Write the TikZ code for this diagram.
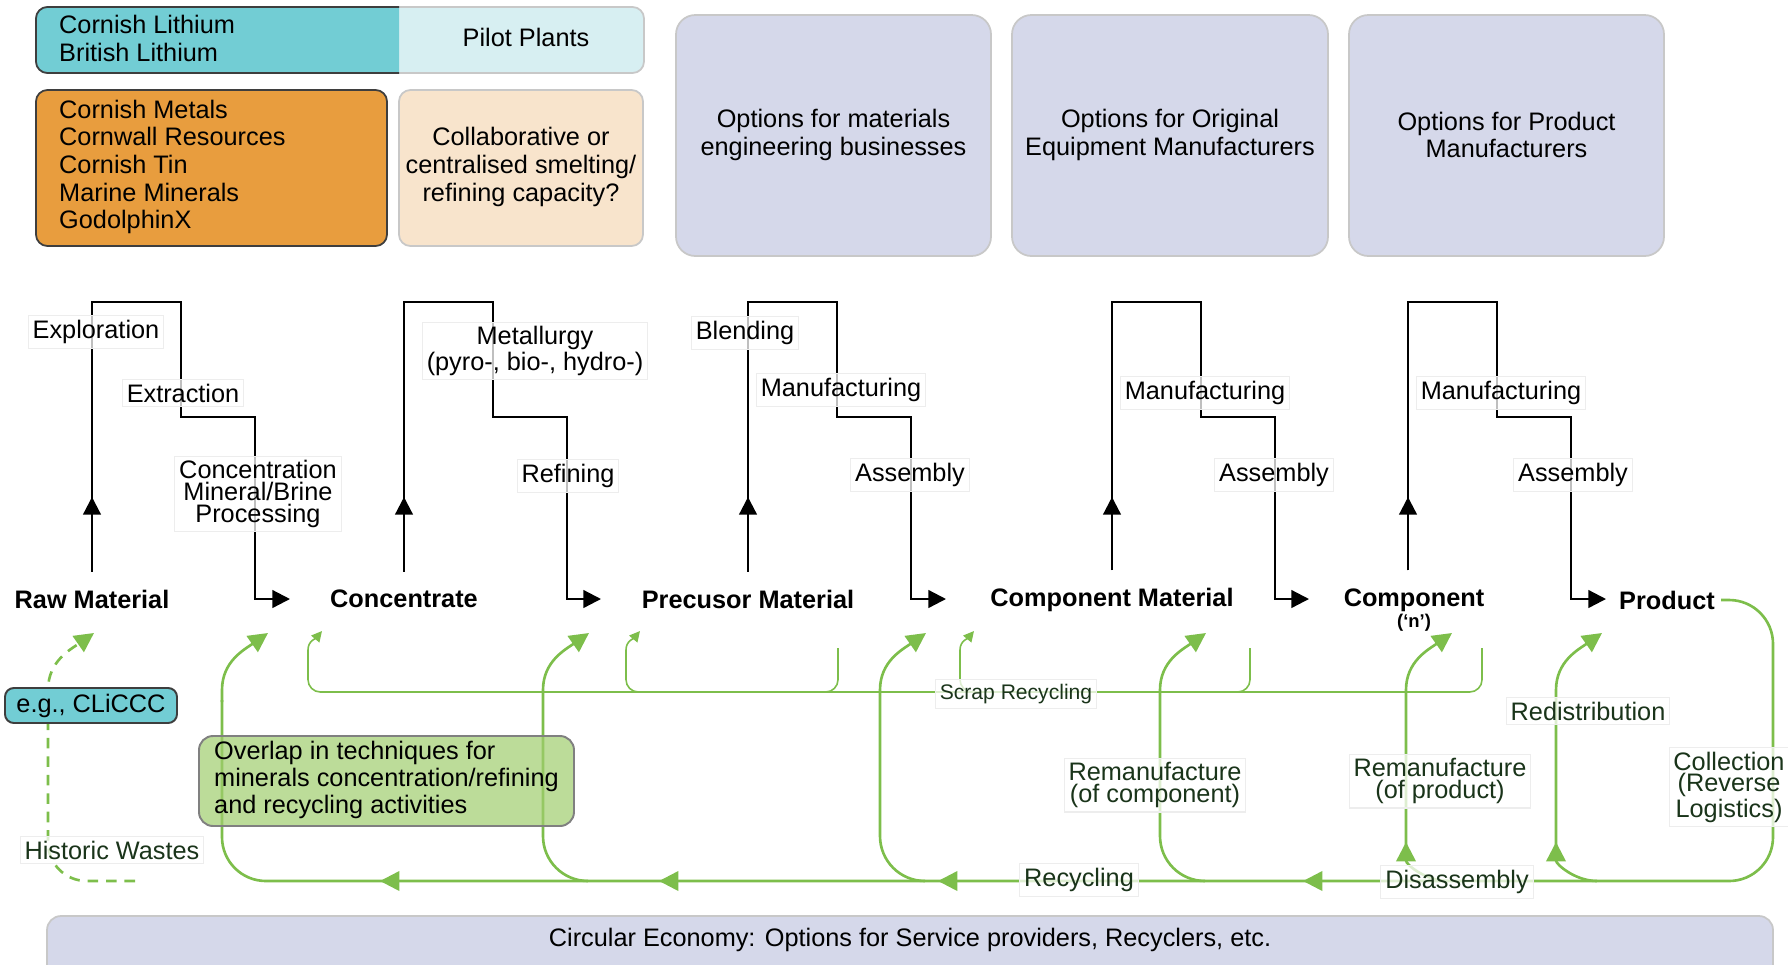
\documentclass[tikz,border=0pt]{standalone}
\usepackage{fontspec}
\setmainfont{Liberation Sans}
\usetikzlibrary{arrows.meta,fit,calc}
\definecolor{tealc}{RGB}{114,205,212}
\definecolor{pilotc}{RGB}{215,239,242}
\definecolor{orangec}{RGB}{232,157,62}
\definecolor{peachc}{RGB}{248,228,204}
\definecolor{lavc}{RGB}{213,216,234}
\definecolor{grnc}{RGB}{125,190,75}
\definecolor{grntxt}{RGB}{26,52,26}
\definecolor{boxgreen}{RGB}{160,205,110}
\definecolor{edgedark}{RGB}{62,62,62}
\definecolor{edgelight}{RGB}{200,200,200}
\tikzset{
  basefont/.style={font=\fontsize{14.4}{15.5}\selectfont},
  tightfont/.style={font=\fontsize{14.4}{12.3}\selectfont},
  stagefont/.style={font=\bfseries\fontsize{14.4}{15.5}\selectfont},
  fitbox/.style={inner sep=0pt, line width=1pt, rounded corners=6.5pt},
  lavbox/.style={fitbox, rounded corners=11pt, fill=lavc, draw=edgelight},
  steplbl/.style={fill=white, fill opacity=0.75, text opacity=1, draw=black!7, line width=0.6pt, inner sep=2.5pt, align=center},
  grnlbl/.style={steplbl, text=grntxt},
  blk/.style={line width=1.3pt, draw=black},
  blktip/.style={-{Triangle[length=10pt,width=10pt]}},
  grn/.style={line width=1.5pt, draw=grnc},
  grntip/.style={-{Triangle[length=11pt,width=11pt]}},
  scrapline/.style={line width=0.9pt, draw=grnc, rounded corners=7pt},
  scraphook/.style={line width=0.9pt, draw=grnc, -{Triangle[length=6pt,width=6pt]}},
  histdash/.style={grn, dash pattern=on 6pt off 4.5pt},
}
\begin{document}
\begin{tikzpicture}[x=0.02cm, y=-0.02cm, every node/.style={basefont}]
\useasboundingbox (0,0) rectangle (1788,964);

% ---------- top boxes ----------
\node[fit={(36,7)(644,73)}, fitbox, fill=pilotc, draw=edgelight] (pilotbox) {};
\filldraw[fill=tealc, draw=edgedark, line width=1pt, rounded corners=6.5pt] (399,7) -- (36,7) -- (36,73) -- (399,73);
\node[anchor=west, align=left] (lith) at (53,38.5) {Cornish Lithium\\British Lithium};
\node (pilot) at (526,37) {Pilot Plants};

\node[fit={(36,90)(387,246)}, fitbox, fill=orangec, draw=edgedark] (orgbox) {};
\node[anchor=west, align=left, font=\fontsize{14.4}{15.7}\selectfont] (orgtxt) at (53,167) {Cornish Metals\\Cornwall Resources\\Cornish Tin\\Marine Minerals\\GodolphinX};
\node[fit={(399,90)(643,246)}, fitbox, fill=peachc, draw=edgelight] (peach) {};
\node[align=center, font=\fontsize{14.4}{16}\selectfont] (peachtxt) at (521,167) {Collaborative or\\centralised smelting/\\refining capacity?};

\node[fit={(676,15)(991,256)}, lavbox] (opt1) {};
\node[fit={(1012,15)(1328,256)}, lavbox] (opt2) {};
\node[fit={(1349,15)(1664,256)}, lavbox] (opt3) {};
\node[align=center] (opt1t) at (opt1.center |- 0,135) {Options for materials\\engineering businesses};
\node[align=center] (opt2t) at (opt2.center |- 0,135) {Options for Original\\Equipment Manufacturers};
\node[align=center] (opt3t) at (opt3.center |- 0,135) {Options for Product\\Manufacturers};

% ---------- stage nodes ----------
\node[stagefont] (raw) at (92,599) {Raw Material};
\node[stagefont] (conc) at (404,599) {Concentrate};
\node[stagefont] (prec) at (748,599) {Precusor Material};
\node[stagefont] (cmat) at (1112,600) {Component Material};
\node[stagefont] (comp) at (1414,600) {Component};
\node[font=\bfseries\fontsize{10.5}{11}\selectfont] (compn) at (1414,623) {(‘n’)};
\node[stagefont] (prod) at (1667,600) {Product};

\coordinate (t1) at (290,599);
\coordinate (t2) at (601,599);
\coordinate (t3) at (946,599);
\coordinate (t4) at (1309,599);
\coordinate (t5) at (1606,599);

% ---------- black connectors ----------
\draw[blk, blktip] ($(raw.north)+(0,-12)$) -- (92,497);
\draw[blk, blktip] ($(raw.north)+(0,-12)$) -- (92,302) -- (181,302) -- (181,417) -- (255,417) -- (255,599) -- (t1);
\draw[blk, blktip] ($(conc.north)+(0,-12)$) -- (404,497);
\draw[blk, blktip] ($(conc.north)+(0,-12)$) -- (404,302) -- (493,302) -- (493,417) -- (567,417) -- (567,599) -- (t2);
\draw[blk, blktip] ($(prec.north)+(0,-12)$) -- (748,497);
\draw[blk, blktip] ($(prec.north)+(0,-12)$) -- (748,302) -- (837,302) -- (837,417) -- (911,417) -- (911,599) -- (t3);
\draw[blk, blktip] ($(cmat.north)+(0,-12)$) -- (1112,497);
\draw[blk, blktip] ($(cmat.north)+(0,-12)$) -- (1112,302) -- (1201,302) -- (1201,417) -- (1275,417) -- (1275,599) -- (t4);
\draw[blk, blktip] ($(comp.north)+(-6,-12)$) -- (1408,497);
\draw[blk, blktip] ($(comp.north)+(-6,-12)$) -- (1408,302) -- (1497,302) -- (1497,417) -- (1571,417) -- (1571,599) -- (t5);

% ---------- step labels ----------
\node[steplbl] (l1) at (96,332) {Exploration};
\node[steplbl] (l2) at (183,393) {Extraction};
\node[steplbl, tightfont] (l3) at (258,494) {Concentration\\Mineral/Brine\\Processing};
\node[steplbl, tightfont] (l4) at (535,351) {Metallurgy\\(pyro-, bio-, hydro-)};
\node[steplbl] (l5) at (568,476) {Refining};
\node[steplbl] (l6) at (745,333) {Blending};
\node[steplbl] (l7) at (841,390) {Manufacturing};
\node[steplbl] (l8) at (910,475) {Assembly};
\node[steplbl] (l9) at (1205,393) {Manufacturing};
\node[steplbl] (l10) at (1274,475) {Assembly};
\node[steplbl] (l11) at (1501,393) {Manufacturing};
\node[steplbl] (l12) at (1573,475) {Assembly};

% ---------- scrap recycling ----------
\coordinate (s1) at (322,631);
\coordinate (s2) at (640,631);
\coordinate (s3) at (974,631);
\draw[scrapline] (1482,648) -- (1482,692) -- (308,692) -- (308,655);
\draw[scraphook] (308,656) -- (308,650) to[out=90,in=230] (s1);
\draw[scrapline] (670,692) -- (626,692) -- (626,655);
\draw[scraphook] (626,656) -- (626,650) to[out=90,in=230] (s2);
\draw[scrapline] (838,648) -- (838,692) -- (790,692);
\draw[scrapline] (1000,692) -- (960,692) -- (960,655);
\draw[scraphook] (960,656) -- (960,650) to[out=90,in=230] (s3);
\draw[scrapline] (1250,648) -- (1250,692) -- (1200,692);

% ---------- green main loop ----------
\coordinate (g1) at (268,633);
\draw[grn, rounded corners=25pt] (prod.east) -- (1773,600) -- (1773,881) -- (222,881) -- (222,700);
\draw[grn, grntip] (222,702) -- (222,690) to[out=90,in=215] (g1);
\draw[grn, grntip] (400,881) -- (380,881);
\draw[grn, grntip] (679,881) -- (659,881);
\draw[grn, grntip] (958,881) -- (938,881);
\draw[grn, grntip] (1323,881) -- (1303,881);

\draw[grn, grntip] (588,881) to[out=180,in=-90] (543,836) -- (543,690) to[out=90,in=215] (589,633);
\draw[grn, grntip] (925,881) to[out=180,in=-90] (880,836) -- (880,690) to[out=90,in=215] (926,633);
\draw[grn, grntip] (1205,881) to[out=180,in=-90] (1160,836) -- (1160,690) to[out=90,in=215] (1206,633);
\draw[grn, grntip] (1448,881) to[out=180,in=-90] (1406,842);
\draw[grn, grntip] (1406,860) -- (1406,690) to[out=90,in=215] (1452,633);
\draw[grn, grntip] (1597,881) to[out=180,in=-90] (1556,842);
\draw[grn, grntip] (1556,860) -- (1556,690) to[out=90,in=215] (1602,633);

% historic wastes dashed
\draw[histdash, rounded corners=22pt] (135,881) -- (48,881) -- (48,700);
\draw[histdash, grntip] (48,700) -- (48,690) to[out=90,in=215] (94,633);

% ---------- boxes in lower area ----------
\node[fit={(5,688)(177,723)}, inner sep=0pt, rounded corners=5pt, fill=tealc, draw=edgedark, line width=1.1pt] (cliccc) {};
\node (clitxt) at (cliccc.center) {e.g., CLiCCC};
\node[fit={(199,736)(574,826)}, inner sep=0pt, rounded corners=8pt, fill=boxgreen, fill opacity=0.7, draw=black!50, line width=1.1pt] (overlap) {};
\node[anchor=west, align=left] (overlaptxt) at (208,780) {Overlap in techniques for\\minerals concentration/refining\\and recycling activities};

\node[fit={(47,916)(1773,995)}, inner sep=0pt, rounded corners=8pt, fill=lavc, draw=edgelight, line width=1pt] (ce) {};
\node (cetxt) at (910,940) {Circular Economy: Options for Service providers, Recyclers, etc.};

% ---------- green labels ----------
\node[grnlbl] (hw) at (112,850) {Historic Wastes};
\node[grnlbl, font=\fontsize{12}{13}\selectfont] (scrap) at (1016,694) {Scrap Recycling};
\node[grnlbl] (recyc) at (1079,880) {Recycling};
\node[grnlbl] (disas) at (1457,882) {Disassembly};
\node[grnlbl, tightfont] (remc) at (1155,785) {Remanufacture\\(of component)};
\node[grnlbl, tightfont] (remp) at (1440,781) {Remanufacture\\(of product)};
\node[grnlbl] (redis) at (1588,711) {Redistribution};
\node[grnlbl, tightfont] (coll) at (1729,787) {Collection\\(Reverse\\Logistics)};
\end{tikzpicture}
\end{document}
